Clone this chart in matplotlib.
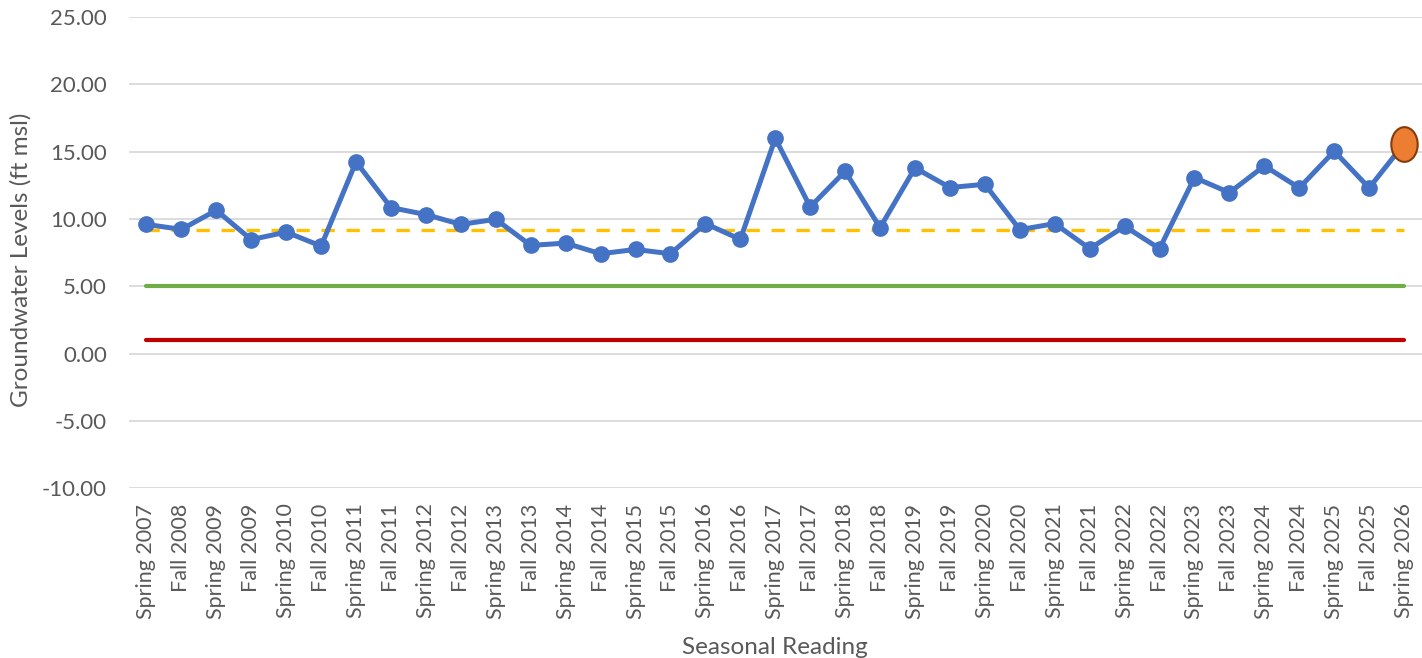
import matplotlib
matplotlib.use("Agg")
import matplotlib.pyplot as plt
from matplotlib.markers import MarkerStyle
from matplotlib.transforms import Affine2D

categories = ["Spring 2007", "Fall 2008", "Spring 2009", "Fall 2009", "Spring 2010", "Fall 2010",
              "Spring 2011", "Fall 2011", "Spring 2012", "Fall 2012", "Spring 2013", "Fall 2013",
              "Spring 2014", "Fall 2014", "Spring 2015", "Fall 2015", "Spring 2016", "Fall 2016",
              "Spring 2017", "Fall 2017", "Spring 2018", "Fall 2018", "Spring 2019", "Fall 2019",
              "Spring 2020", "Fall 2020", "Spring 2021", "Fall 2021", "Spring 2022", "Fall 2022",
              "Spring 2023", "Fall 2023", "Spring 2024", "Fall 2024", "Spring 2025", "Fall 2025",
              "Spring 2026"]
levels = [9.60, 9.23, 10.65, 8.47, 9.03, 7.99, 14.25, 10.85, 10.33, 9.60, 9.98, 8.04,
          8.21, 7.42, 7.74, 7.42, 9.66, 8.49, 15.99, 10.90, 13.55, 9.36, 13.80, 12.34,
          12.58, 9.21, 9.66, 7.80, 9.46, 7.80, 13.08, 11.96, 13.95, 12.31, 15.04, 12.31,
          15.60]
dashed_level = 9.2
green_level = 5.0
red_level = 1.0
yticks = [-10, -5, 0, 5, 10, 15, 20, 25]

plt.rcParams['font.family'] = ['Lato', 'DejaVu Sans']

fig = plt.figure(figsize=(14.22, 6.58), dpi=100)
ax = fig.add_axes([0.0907, 0.258, 0.909, 0.716])

x = list(range(len(categories)))
ax.plot(x, [red_level] * len(x), color="#C00000", lw=3.0, solid_capstyle="round", zorder=2)
ax.plot(x, [green_level] * len(x), color="#70AD47", lw=3.0, solid_capstyle="round", zorder=2)
ax.plot(x, [dashed_level] * len(x), color="#FFC000", lw=2.4, dashes=(4, 3.5), zorder=2)

ax.plot(x[:-1], levels[:-1], color="#4472C4", lw=3.6, marker="o", markersize=11,
        markerfacecolor="#4472C4", markeredgecolor="#4472C4", zorder=3)
ax.plot(x[-2:], levels[-2:], color="#4472C4", lw=3.6, zorder=3)
ell = MarkerStyle("o", transform=Affine2D().scale(0.76, 1.0))
ax.plot([x[-1]], [levels[-1]], linestyle="none", marker=ell, markersize=25,
        markerfacecolor="#ED7D31", markeredgecolor="#843C0C", markeredgewidth=1.5, zorder=4,
        clip_on=False)

ax.set_xlim(-0.5, len(categories) - 0.5)
ax.set_ylim(-10, 25)
ax.set_yticks(yticks)
ax.set_yticklabels([f"{v:.2f}" for v in yticks])
ax.set_xticks(x)
ax.set_xticklabels(categories, rotation=90)
ax.grid(axis="y", color="#D9D9D9", lw=1.3)
ax.set_axisbelow(True)
for s in ax.spines.values():
    s.set_visible(False)
ax.tick_params(axis="both", length=0, colors="#595959")
ax.tick_params(axis="y", pad=16, labelsize=16)
ax.tick_params(axis="x", pad=11, labelsize=15.5)
ax.set_ylabel("Groundwater Levels (ft msl)", fontsize=17.5, color="#595959")
ax.yaxis.set_label_coords(-0.075, 0.484)
ax.set_xlabel("Seasonal Reading", fontsize=17.5, color="#595959", labelpad=13)

fig.savefig("out.png", dpi=100)
